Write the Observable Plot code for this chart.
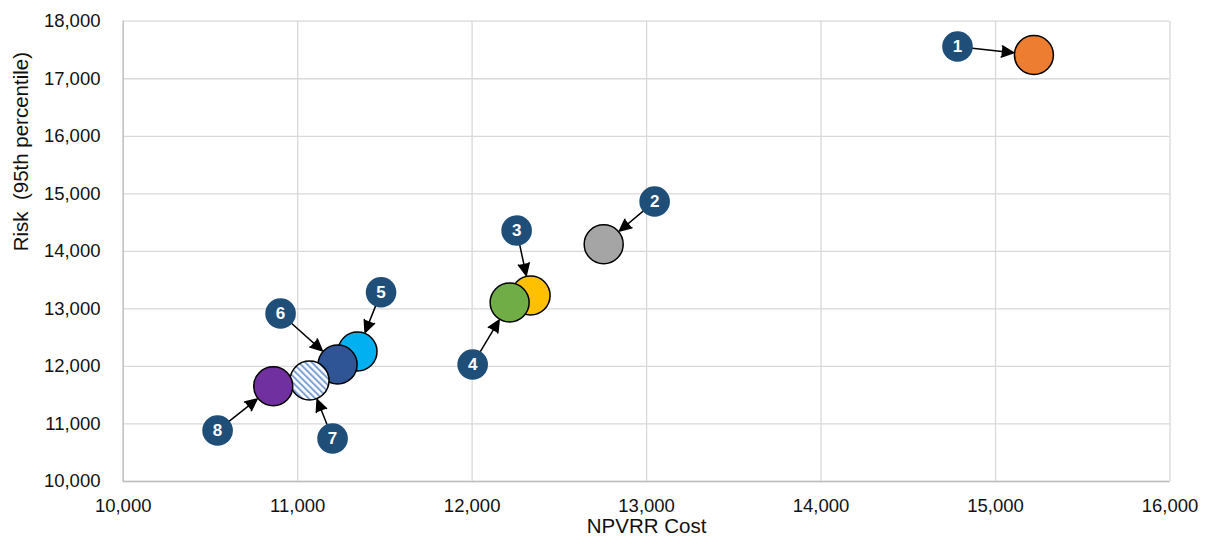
<!DOCTYPE html>
<html><head><meta charset="utf-8">
<script src="https://cdn.jsdelivr.net/npm/d3@7"></script>
<script src="https://cdn.jsdelivr.net/npm/@observablehq/plot@0.6"></script>
<style>body{margin:0;background:#fff;}</style>
</head><body><div id="chart"></div>
<script>
const ids = [1, 2, 3, 4, 5, 6, 7, 8];
const costs = [15220, 12754, 12335, 12215, 11343, 11229, 11068, 10860];
const risks = [17412, 14124, 13233, 13111, 12259, 12033, 11755, 11656];
const colors = ["#ED7D31", "#A5A5A5", "#FFC000", "#70AD47", "#00B0F0", "#2F5597", "url(#hatch)", "#7030A0"];
const labelCosts = [14782, 13046, 12255, 12003, 11478, 10902, 11200, 10541];
const labelRisks = [17560, 14866, 14362, 12033, 13290, 12920, 10747, 10886];
const xTicks = [10000, 11000, 12000, 13000, 14000, 15000, 16000];
const yTicks = [10000, 11000, 12000, 13000, 14000, 15000, 16000, 17000, 18000];
const xTitle = "NPVRR Cost";
const yTitle = "Risk  (95th percentile)";

const data = ids.map((id, i) => ({
  id: String(id), x: costs[i], y: risks[i], color: colors[i], lx: labelCosts[i], ly: labelRisks[i]
}));

const fmt = d3.format(",");
const svg = Plot.plot({
  width: 1206,
  height: 544,
  marginLeft: 122.7,
  marginRight: 36.5,
  marginTop: 20.7,
  marginBottom: 63,
  style: {fontFamily: "'Liberation Sans', Arial, sans-serif", fontSize: "18px", color: "#111", background: "#fff"},
  x: {domain: [10000, 16000]},
  y: {domain: [10000, 18000]},
  color: {type: "identity"},
  marks: [
    Plot.gridX(xTicks, {stroke: "#d9d9d9", strokeOpacity: 1, strokeWidth: 1.3}),
    Plot.gridY(yTicks, {stroke: "#d9d9d9", strokeOpacity: 1, strokeWidth: 1.3}),
    Plot.ruleX([10000], {stroke: "#bfbfbf", strokeWidth: 1.3}),
    Plot.ruleY([10000], {stroke: "#bfbfbf", strokeWidth: 1.3}),
    Plot.axisX(xTicks, {tickSize: 0, tickPadding: 17, tickFormat: fmt, fontSize: 18.5, label: null}),
    Plot.axisY(yTicks, {tickSize: 0, tickPadding: 22.7, tickFormat: fmt, fontSize: 18.5, label: null}),
    Plot.text([xTitle], {frameAnchor: "bottom", dy: 51.5, fontSize: 20.5, fill: "#111"}),
    Plot.text([yTitle], {frameAnchor: "left", dx: -102, rotate: -90, fontSize: 20.5, fill: "#111"}),
    Plot.arrow(data, {x1: "lx", y1: "ly", x2: "x", y2: "y", insetStart: 15, insetEnd: 20.5,
      stroke: "black", fill: "black", strokeWidth: 1.5, headLength: 13, headAngle: 50}),
    Plot.dot(data, {x: "x", y: "y", r: 19.5, fill: "color", stroke: "black", strokeWidth: 1.5}),
    Plot.dot(data, {x: "lx", y: "ly", r: 15.3, fill: "#1F4E79"}),
    Plot.text(data, {x: "lx", y: "ly", text: "id", fill: "white", fontWeight: "bold", fontSize: 17})
  ]
});

const defs = d3.select(svg).insert("defs", ":first-child");
const pat = defs.append("pattern")
  .attr("id", "hatch").attr("patternUnits", "userSpaceOnUse")
  .attr("width", 4.6).attr("height", 4.6).attr("patternTransform", "rotate(-45)");
pat.append("rect").attr("width", 4.6).attr("height", 4.6).attr("fill", "white");
pat.append("rect").attr("width", 2).attr("height", 4.6).attr("fill", "#7F9FD4");

document.getElementById("chart").appendChild(svg);
</script>
</body></html>
